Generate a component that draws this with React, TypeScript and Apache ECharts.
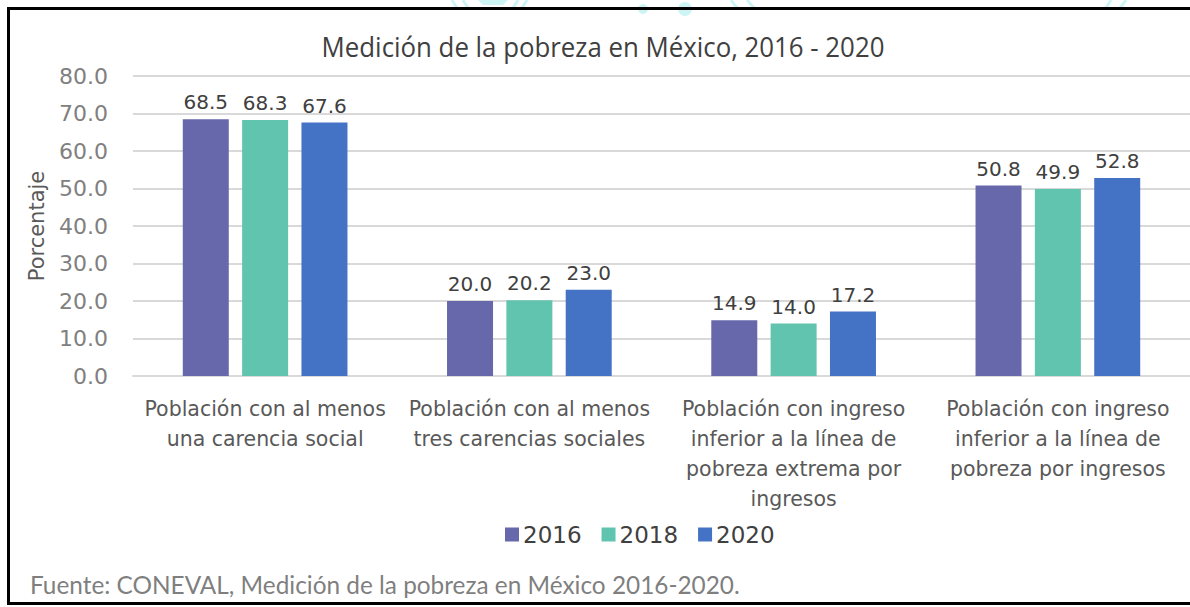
import React, { useEffect, useRef } from "react";
import * as echarts from "echarts";

const categories = [
  "Población con al menos\nuna carencia social",
  "Población con al menos\ntres carencias sociales",
  "Población con ingreso\ninferior a la línea de\npobreza extrema por\ningresos",
  "Población con ingreso\ninferior a la línea de\npobreza por ingresos",
];
const seriesNames = ["2016", "2018", "2020"];
const values2016 = [68.5, 20.0, 14.9, 50.8];
const values2018 = [68.3, 20.2, 14.0, 49.9];
const values2020 = [67.6, 23.0, 17.2, 52.8];
const colors = ["#6768AB", "#60C4AF", "#4472C4"];
const titleText = "Medición de la pobreza en México, 2016 - 2020";
const sourceText = "Fuente: CONEVAL, Medición de la pobreza en México 2016-2020.";
const yAxisName = "Porcentaje";

function measure(text: string, font: string): number {
  const c = document.createElement("canvas").getContext("2d");
  if (!c) return 1;
  c.font = font;
  return c.measureText(text).width || 1;
}

export default function App() {
  const ref = useRef<HTMLDivElement>(null);
  useEffect(() => {
    if (!ref.current) return;
    const chart = echarts.init(ref.current, undefined, { renderer: "svg" });
    const allValues = [values2016, values2018, values2020];
    const titleFont = "Open Sans";
    const titleSize = 27;
    const titleScale = 563 / measure(titleText, `${titleSize}px "${titleFont}"`);
    const srcFont = "Lato";
    const srcSize = 25;
    const srcScale = 710 / measure(sourceText, `${srcSize}px "${srcFont}"`);
    const wm = "#cdf5f5";
    const wmLine = (x1: number, y1: number, x2: number, y2: number) => ({
      type: "line",
      shape: { x1, y1, x2, y2 },
      style: { stroke: wm, lineWidth: 3 },
      silent: true,
    });
    const border = { stroke: "#000000", lineWidth: 3 };
    chart.setOption({
      animation: false,
      backgroundColor: "#ffffff",
      legend: {
        left: 500,
        top: 518,
        itemWidth: 14,
        itemHeight: 14,
        itemGap: 20,
        icon: "rect",
        textStyle: { fontFamily: "DejaVu Sans", fontSize: 23, color: "#404040", padding: [0, 0, 0, -1] },
        data: seriesNames,
      },
      grid: { left: 133, right: -6, top: 76, bottom: 607 - 376 },
      xAxis: {
        type: "category",
        data: categories,
        axisLine: { show: true, lineStyle: { color: "#d9d9d9", width: 2 } },
        axisTick: { show: false },
        axisLabel: {
          interval: 0,
          margin: 18,
          fontFamily: "DejaVu Sans",
          fontSize: 20.5,
          lineHeight: 30,
          color: "#595959",
          align: "center",
        },
      },
      yAxis: {
        type: "value",
        min: 0,
        max: 80,
        interval: 10,
        name: yAxisName,
        nameLocation: "middle",
        nameGap: 86,
        nameTextStyle: { fontFamily: "DejaVu Sans", fontSize: 21, color: "#595959" },
        axisLine: { show: false },
        axisTick: { show: false },
        splitLine: { lineStyle: { color: "#d9d9d9", width: 2 } },
        axisLabel: {
          margin: 25,
          fontFamily: "DejaVu Sans",
          fontSize: 22,
          color: "#808080",
          formatter: (v: number) => v.toFixed(1),
        },
      },
      series: seriesNames.map((name, i) => ({
        name,
        type: "bar",
        data: allValues[i],
        barWidth: 46,
        barGap: "29%",
        itemStyle: { color: colors[i] },
        label: {
          show: true,
          position: "top",
          distance: 7,
          fontFamily: "DejaVu Sans",
          fontSize: 20,
          color: "#404040",
          formatter: (p: any) => Number(p.value).toFixed(1),
        },
      })),
      graphic: [
        wmLine(452, 0, 457, 8),
        wmLine(463, 0, 468, 8),
        { type: "polygon", shape: { points: [[478, 0], [508, 0], [503, 5], [483, 5]] }, style: { fill: wm }, silent: true },
        wmLine(513, 8, 518, 0),
        wmLine(522, 8, 527, 0),
        { type: "circle", shape: { cx: 643, cy: 9, r: 5 }, style: { fill: wm }, silent: true },
        { type: "circle", shape: { cx: 685, cy: 9, r: 7 }, style: { fill: wm }, silent: true },
        wmLine(731, 0, 737, 8),
        wmLine(747, 0, 754, 8),
        wmLine(1106, 8, 1111, 0),
        wmLine(1120, 8, 1126, 0),
        { type: "line", shape: { x1: 8.5, y1: 8.5, x2: 1190, y2: 8.5 }, style: border, silent: true },
        { type: "line", shape: { x1: 8.5, y1: 7, x2: 8.5, y2: 605 }, style: border, silent: true },
        { type: "line", shape: { x1: 8.5, y1: 603.5, x2: 1190, y2: 603.5 }, style: border, silent: true },
        {
          type: "text",
          x: 603,
          y: 47,
          scaleX: titleScale,
          style: {
            text: titleText,
            fontFamily: titleFont,
            fontSize: titleSize,
            fill: "#404040",
            textAlign: "center",
            textVerticalAlign: "middle",
          },
        },
        {
          type: "text",
          x: 30,
          y: 584,
          scaleX: srcScale,
          style: {
            text: sourceText,
            fontFamily: srcFont,
            fontSize: srcSize,
            fill: "#7f7f7f",
            textAlign: "left",
            textVerticalAlign: "middle",
          },
        },
      ],
    });
    return () => chart.dispose();
  }, []);
  return (
    <div
      ref={ref}
      style={{ position: "fixed", left: 0, top: 0, width: 1190, height: 607 }}
    />
  );
}
